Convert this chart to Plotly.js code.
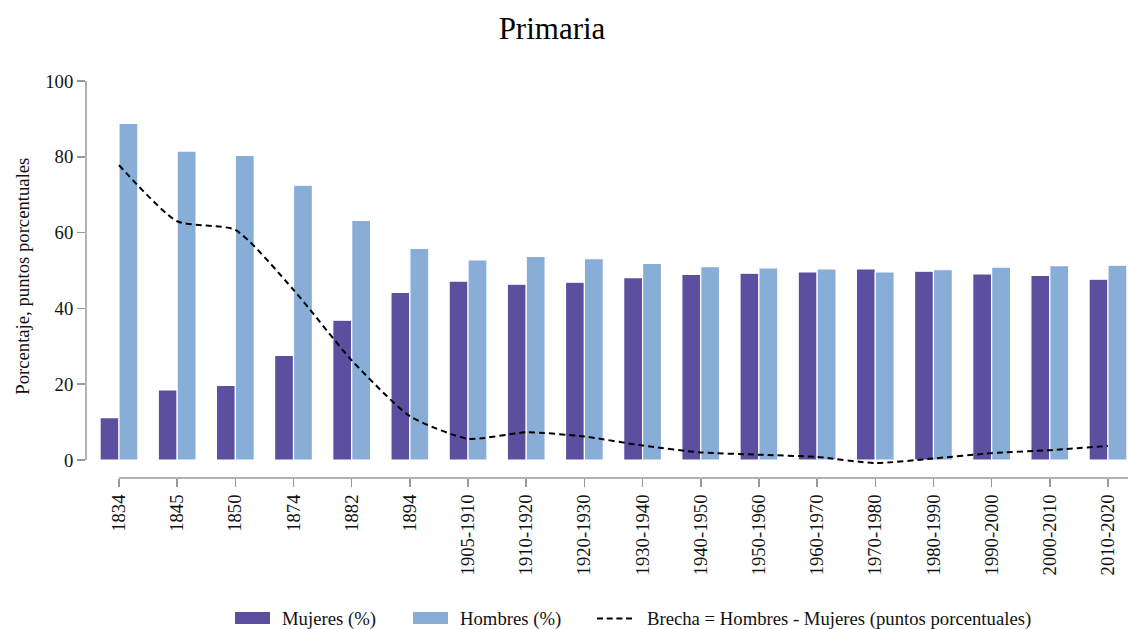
<!DOCTYPE html>
<html>
<head>
<meta charset="utf-8">
<script src="https://cdn.plot.ly/plotly-3.0.1.min.js"></script>
<style>html,body{margin:0;padding:0;background:#fff;}#chart{width:1128px;height:629px;}</style>
</head>
<body>
<div id="chart"></div>
<script>
const categories = ["1834","1845","1850","1874","1882","1894","1905-1910","1910-1920","1920-1930","1930-1940","1940-1950","1950-1960","1960-1970","1970-1980","1980-1990","1990-2000","2000-2010","2010-2020"];
const mujeres = [11.2,18.5,19.7,27.6,36.9,44.2,47.2,46.4,46.9,48.1,49.0,49.3,49.6,50.4,49.8,49.1,48.7,47.7];
const hombres = [88.8,81.5,80.4,72.5,63.2,55.8,52.8,53.7,53.1,51.9,51.0,50.7,50.4,49.6,50.2,50.9,51.3,51.4];
const brecha = [77.8,63.0,60.7,44.9,26.3,11.6,5.6,7.3,6.2,3.8,2.0,1.4,0.8,-0.8,0.4,1.8,2.6,3.7];
const yTicks = [0,20,40,60,80,100];
const seriesNames = ["Mujeres (%)","Hombres (%)","Brecha = Hombres - Mujeres (puntos porcentuales)"];

const font = "'Liberation Serif', 'Times New Roman', serif";
const colM = '#5c4f9f', colH = '#88add6';
const idx = categories.map((_, i) => i);

const traces = [
  {type:'bar', name:seriesNames[0], x: idx, y: mujeres, showlegend:false,
   marker:{color:colM, line:{color:'#ffffff', width:1.2}}},
  {type:'bar', name:seriesNames[1], x: idx, y: hombres, showlegend:false,
   marker:{color:colH, line:{color:'#ffffff', width:1.2}}},
  {type:'scatter', mode:'lines', name:seriesNames[2], x: idx, y: brecha, showlegend:false,
   line:{color:'#000000', width:2, dash:'6px,4px', shape:'spline', smoothing:0.6}}
];

const W = 1128, H = 629, L = 86, T = 81, B = 151;
const plotW = W - L, plotH = H - T - B;
const pxX = px => (px - L) / plotW;
const pxY = py => (H - B - py) / plotH;
const yMin = -3;
const pxPerUnit = (460 - 81) / 100;
const yDomStart = pxY(460 - yMin * pxPerUnit);

const legY0 = 612, legY1 = 624, legMid = 618.5;
const legendItems = [
  {sx0:235, sx1:270, tx:280, kind:'bar', color:colM, text:seriesNames[0]},
  {sx0:413, sx1:448, tx:458, kind:'bar', color:colH, text:seriesNames[1]},
  {sx0:597, sx1:632, tx:645, kind:'line', color:'#000', text:seriesNames[2]}
];

const shapes = [
  {type:'line', xref:'x', yref:'paper', x0:0, x1:17.6, y0:0, y1:0, line:{color:'#999', width:1.5}, layer:'above'},
  {type:'line', xref:'paper', yref:'y', x0:0, x1:0, y0:0, y1:100, line:{color:'#999', width:1.5}, layer:'above'}
];
const annotations = [];
legendItems.forEach(it => {
  if (it.kind === 'bar') {
    shapes.push({type:'rect', xref:'paper', yref:'paper', x0:pxX(it.sx0), x1:pxX(it.sx1), y0:pxY(legY1), y1:pxY(legY0),
      fillcolor:it.color, line:{width:0}});
  } else {
    shapes.push({type:'line', xref:'paper', yref:'paper', x0:pxX(it.sx0), x1:pxX(it.sx1), y0:pxY(legMid), y1:pxY(legMid),
      line:{color:it.color, width:2, dash:'6px,3.7px'}});
  }
  annotations.push({xref:'paper', yref:'paper', x:pxX(it.tx), y:pxY(legMid), xanchor:'left', yanchor:'middle',
    text:it.text, showarrow:false, font:{family:font, size:18.7, color:'#111'}});
});

const layout = {
  width:W, height:H,
  margin:{l:L, r:0, t:T, b:B, pad:0},
  paper_bgcolor:'#fff', plot_bgcolor:'#fff',
  font:{family:font, size:18.7, color:'#111'},
  title:{text:'Primaria', font:{family:font, size:31, color:'#000'}, x:552/W, xref:'container', xanchor:'center', y:1-28/H, yref:'container', yanchor:'middle'},
  barmode:'group', bargap:0.35, bargroupgap:0,
  showlegend:false,
  xaxis:{
    range:[-0.567, 17.344], tickmode:'array', tickvals: idx, ticktext: categories,
    tickangle:-90, ticks:'outside', ticklen:8, tickwidth:1.5, tickcolor:'#999',
    showline:false, showgrid:false, zeroline:false, anchor:'free', position:0, automargin:false,
    tickfont:{family:font, size:18.7, color:'#111'}
  },
  yaxis:{
    domain:[yDomStart, 1], range:[yMin,100], tickmode:'array', tickvals:yTicks,
    ticks:'outside', ticklen:8, tickwidth:1.5, tickcolor:'#999',
    showline:false, showgrid:false, zeroline:false, automargin:false,
    title:{text:'Porcentaje, puntos porcentuales', font:{family:font, size:18.7, color:'#111'}, standoff:10},
    tickfont:{family:font, size:18.7, color:'#111'}
  },
  shapes: shapes,
  annotations: annotations
};

Plotly.newPlot('chart', traces, layout, {displayModeBar:false, staticPlot:true});
</script>
</body>
</html>
